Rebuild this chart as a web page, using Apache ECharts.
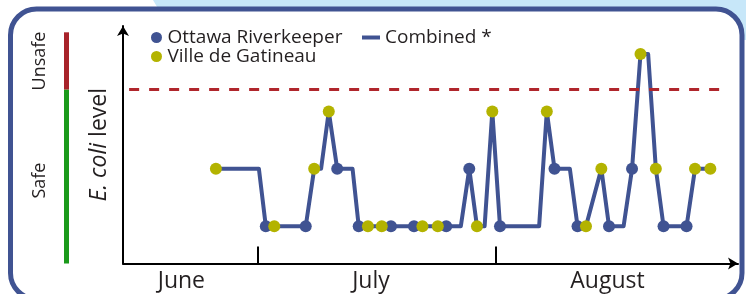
<!DOCTYPE html>
<html>
<head>
<meta charset="utf-8">
<script src="https://cdn.jsdelivr.net/npm/echarts@6/dist/echarts.min.js"></script>
<style>
html, body { margin: 0; padding: 0; background: #fff; }
#myChart { width: 746px; height: 294px; }
</style>
</head>
<body>
<div id="myChart"></div>
<script>
// x = day counted from 1 June (= 1), so 1 July = 30 and 1 August = 61
// level: 1 = low, 2 = medium, 3 = high, 4 = very high
var riverkeeperDays = [31.0, 36.2, 40.3, 43.1, 47.3, 50.3, 54.5, 57.5, 61.5, 68.6, 71.6, 75.7, 78.7, 82.8, 85.8];
var riverkeeperLevels = [1, 1, 2, 1, 1, 1, 1, 2, 1, 2, 1, 1, 2, 1, 1];

var gatineauDays = [24.5, 32.1, 37.3, 39.2, 44.3, 46.1, 51.4, 53.4, 58.5, 60.5, 67.6, 72.7, 74.7, 79.8, 81.8, 86.9, 88.9];
var gatineauLevels = [2, 1, 2, 3, 1, 1, 1, 1, 1, 3, 3, 1, 2, 4, 2, 2, 2];

// combined line, with the corners where it holds a level between samples
var combinedDays = [24.5, 30.1, 31.0, 32.1, 36.2, 37.3, 38.2, 39.2, 40.3, 42.3,
  43.1, 44.3, 46.1, 47.3, 50.3, 51.4, 53.4, 54.5, 56.4, 57.5,
  58.5, 59.5, 60.5, 61.5, 66.6, 67.6, 68.6, 70.6, 71.6, 72.7,
  74.7, 75.7, 77.6, 78.7, 79.8, 80.8, 81.8, 82.8, 85.8, 86.9, 88.9];
var combinedLevels = [2, 2, 1, 1, 1, 2, 2, 3, 2, 2,
  1, 1, 1, 1, 1, 1, 1, 1, 1, 2,
  1, 1, 3, 1, 1, 3, 2, 2, 1, 1,
  2, 1, 1, 2, 4, 4, 2, 1, 1, 2, 2];

var monthNames = ['June', 'July', 'August'];
var monthLabelDays = [20, 44.7, 75.5];
var monthStartDays = [30, 61];

var safeLimit = 3.38;
var safeLimitSpan = [13.2, 91.2];
var unsafeTop = 4.38;

var xMin = 12.4, xMax = 92.5;
var yMin = 0.35, yMax = 4.49;

var BLUE = '#405392';
var YELLOW = '#b3b300';
var RED = '#b0262c';
var TEXT = '#231f20';
var FONT = '"Open Sans", sans-serif';

function pairs(xs, ys) {
  var out = [];
  for (var i = 0; i < xs.length; i++) out.push([xs[i], ys[i]]);
  return out;
}

var myChart = echarts.init(document.getElementById('myChart'));

var option = {
  animation: false,
  textStyle: { fontFamily: FONT, color: TEXT },
  grid: { left: 123, right: 8, top: 26, bottom: 30.5 },
  legend: [
    {
      data: ['Ottawa Riverkeeper', 'Ville de Gatineau'],
      orient: 'vertical',
      left: 146, top: 23,
      itemWidth: 12, itemHeight: 11, itemGap: 0,
      icon: 'circle',
      textStyle: { fontFamily: FONT, fontSize: 19, color: TEXT, lineHeight: 19 }
    },
    {
      data: ['Combined *'],
      left: 357, top: 23,
      itemWidth: 18, itemHeight: 4,
      icon: 'rect',
      textStyle: { fontFamily: FONT, fontSize: 19, color: TEXT, lineHeight: 19 }
    }
  ],
  xAxis: {
    type: 'value',
    min: xMin, max: xMax,
    axisLine: {
      lineStyle: { color: '#000', width: 2 },
      symbol: ['none', 'arrow'], symbolSize: [9, 10]
    },
    axisTick: {
      show: true, inside: true, length: 17,
      customValues: monthStartDays,
      lineStyle: { color: '#000', width: 2 }
    },
    axisLabel: {
      customValues: monthLabelDays,
      margin: 6,
      fontFamily: FONT, fontSize: 23, color: TEXT,
      formatter: function (v) {
        for (var i = 0; i < monthLabelDays.length; i++) {
          if (Math.abs(monthLabelDays[i] - v) < 0.01) return monthNames[i];
        }
        return '';
      }
    },
    splitLine: { show: false }
  },
  yAxis: {
    type: 'value',
    min: yMin, max: yMax,
    name: '{i|E. coli} level',
    nameLocation: 'middle',
    nameRotate: 90,
    nameGap: 12,
    nameTextStyle: {
      fontFamily: FONT, fontSize: 23, color: TEXT,
      rich: { i: { fontFamily: FONT, fontSize: 23, color: TEXT, fontStyle: 'italic' } }
    },
    axisLine: {
      show: true,
      lineStyle: { color: '#000', width: 2 },
      symbol: ['none', 'arrow'], symbolSize: [9, 10]
    },
    axisTick: { show: false },
    axisLabel: { show: false },
    splitLine: { show: false }
  },
  series: [
    {
      name: 'Combined *',
      type: 'line',
      data: pairs(combinedDays, combinedLevels),
      symbol: 'none',
      lineStyle: { color: BLUE, width: 4, join: 'round' },
      itemStyle: { color: BLUE },
      z: 2,
      markLine: {
        silent: true,
        symbol: 'none',
        label: { show: false },
        lineStyle: { color: RED, width: 3, type: [10, 10] },
        data: [[{ coord: [safeLimitSpan[0], safeLimit] }, { coord: [safeLimitSpan[1], safeLimit] }]]
      }
    },
    {
      name: 'Ottawa Riverkeeper',
      type: 'scatter',
      data: pairs(riverkeeperDays, riverkeeperLevels),
      symbolSize: 12,
      itemStyle: { color: BLUE, opacity: 1 },
      z: 3
    },
    {
      name: 'Ville de Gatineau',
      type: 'scatter',
      data: pairs(gatineauDays, gatineauLevels),
      symbolSize: 12,
      itemStyle: { color: YELLOW, opacity: 1 },
      z: 4
    }
  ]
};
myChart.setOption(option);

// safe / unsafe bar on the left, placed from the y scale
var yTopPx = myChart.convertToPixel({ yAxisIndex: 0 }, unsafeTop);
var yLimitPx = myChart.convertToPixel({ yAxisIndex: 0 }, safeLimit);
var yBottomPx = myChart.convertToPixel({ yAxisIndex: 0 }, yMin);

myChart.setOption({
  graphic: [
    {
      type: 'polygon', z: -20, silent: true,
      shape: { points: [[153, 0], [746, 0], [746, 40], [160, 12]] },
      style: { fill: '#c7e7f9' }
    },
    {
      type: 'rect', z: -10, silent: true,
      shape: { x: 10.5, y: 9, width: 731.5, height: 290, r: 26 },
      style: { fill: '#fff', stroke: BLUE, lineWidth: 5 }
    },
    {
      type: 'rect', silent: true,
      shape: { x: 64, y: yTopPx, width: 5, height: yLimitPx - yTopPx },
      style: { fill: '#a8232a' }
    },
    {
      type: 'rect', silent: true,
      shape: { x: 64, y: yLimitPx, width: 5, height: yBottomPx - yLimitPx },
      style: { fill: '#1b9a1b' }
    },
    {
      type: 'text', silent: true,
      x: 40, y: (yTopPx + yLimitPx) / 2, rotation: Math.PI / 2,
      style: { text: 'Unsafe', font: '18px "Open Sans", sans-serif', fill: TEXT, align: 'center', verticalAlign: 'middle' }
    },
    {
      type: 'text', silent: true,
      x: 40, y: (yLimitPx + yBottomPx) / 2 + 4, rotation: Math.PI / 2,
      style: { text: 'Safe', font: '18px "Open Sans", sans-serif', fill: TEXT, align: 'center', verticalAlign: 'middle' }
    }
  ]
});
</script>
</body>
</html>
